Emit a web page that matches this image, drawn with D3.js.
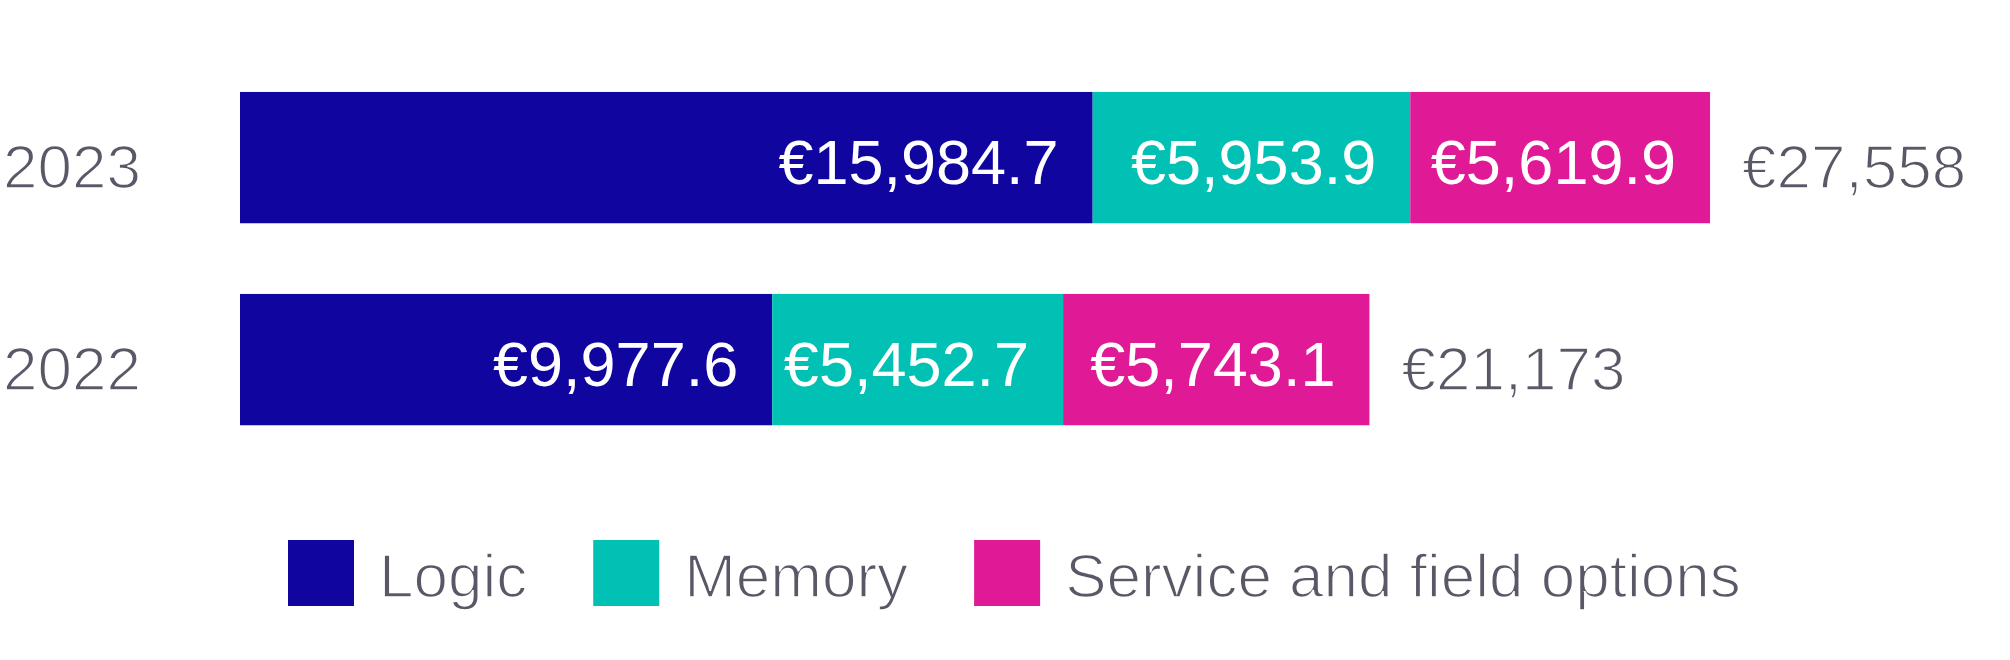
<!DOCTYPE html>
<html>
<head>
<meta charset="utf-8">
<script src="https://cdn.jsdelivr.net/npm/d3@7"></script>
<style>
  html, body { margin: 0; padding: 0; background: #fff; }
  svg { display: block; }
</style>
</head>
<body>
<svg id="chart" width="2010" height="660"></svg>
<script>
const years = ["2023", "2022"];
const seriesNames = ["Logic", "Memory", "Service and field options"];
const logicValues = [15984.7, 9977.6];
const memoryValues = [5953.9, 5452.7];
const serviceValues = [5619.9, 5743.1];
const totalLabels = ["€27,558", "€21,173"];
const segmentLabels = [
  ["€15,984.7", "€5,953.9", "€5,619.9"],
  ["€9,977.6", "€5,452.7", "€5,743.1"]
];
const colors = ["#10069f", "#00c1b4", "#e01a96"];

const grey = "#5a5767";
const font = "'Liberation Sans', Arial, Helvetica, sans-serif";

const svg = d3.select("#chart");

const rows = years.map((y, i) => ({
  year: y,
  Logic: logicValues[i],
  Memory: memoryValues[i],
  "Service and field options": serviceValues[i],
  total: logicValues[i] + memoryValues[i] + serviceValues[i],
  idx: i
}));

const stack = d3.stack().keys(seriesNames);
const stacked = stack(rows);

const x = d3.scaleLinear().domain([0, 27558]).range([240, 1710]);
const y = d3.scaleBand().domain(years).range([56.6, 460.6]).paddingInner(0.35).paddingOuter(0.175);

// bars
const layers = svg.selectAll("g.layer").data(stacked).join("g")
  .attr("class", "layer")
  .attr("fill", (d, i) => colors[i]);

layers.selectAll("rect").data(d => d).join("rect")
  .attr("x", d => x(d[0]))
  .attr("y", d => y(d.data.year))
  .attr("width", d => x(d[1]) - x(d[0]))
  .attr("height", y.bandwidth());

// segment labels
layers.each(function(layer, si) {
  d3.select(this).selectAll("text").data(layer).join("text")
    .attr("x", d => x(d[1]) - 34)
    .attr("y", d => y(d.data.year) + y.bandwidth() / 2 + 26)
    .attr("text-anchor", "end")
    .attr("fill", "#fff")
    .attr("font-family", font)
    .attr("font-size", 63)
    .text(d => segmentLabels[d.data.idx][si]);
});

function light(sel) {
  sel.attr("fill", grey)
    .attr("stroke", "#fff")
    .attr("stroke-width", 1.6)
    .style("paint-order", "normal");
}

// year labels
svg.selectAll("text.year").data(rows).join("text")
  .attr("class", "year")
  .attr("x", 3)
  .attr("y", d => y(d.year) + y.bandwidth() / 2 + 30)
  .attr("font-family", font)
  .attr("font-size", 62)
  .text(d => d.year)
  .call(light);

// totals
svg.selectAll("text.total").data(rows).join("text")
  .attr("class", "total")
  .attr("x", d => x(d.total) + 32)
  .attr("y", d => y(d.year) + y.bandwidth() / 2 + 30)
  .attr("font-family", font)
  .attr("font-size", 62)
  .text(d => totalLabels[d.idx])
  .call(light);

// legend
const legend = svg.append("g").attr("class", "legend");
let lx = 288;
seriesNames.forEach((name, i) => {
  legend.append("rect")
    .attr("x", lx).attr("y", 540)
    .attr("width", 66).attr("height", 66)
    .attr("fill", colors[i]);
  const t = legend.append("text")
    .attr("x", lx + 66 + 25)
    .attr("y", 597)
    .attr("font-family", font)
    .attr("font-size", 62)
    .text(name)
    .call(light);
  lx = lx + 66 + 25 + t.node().getComputedTextLength() + 66;
});
</script>
</body>
</html>
